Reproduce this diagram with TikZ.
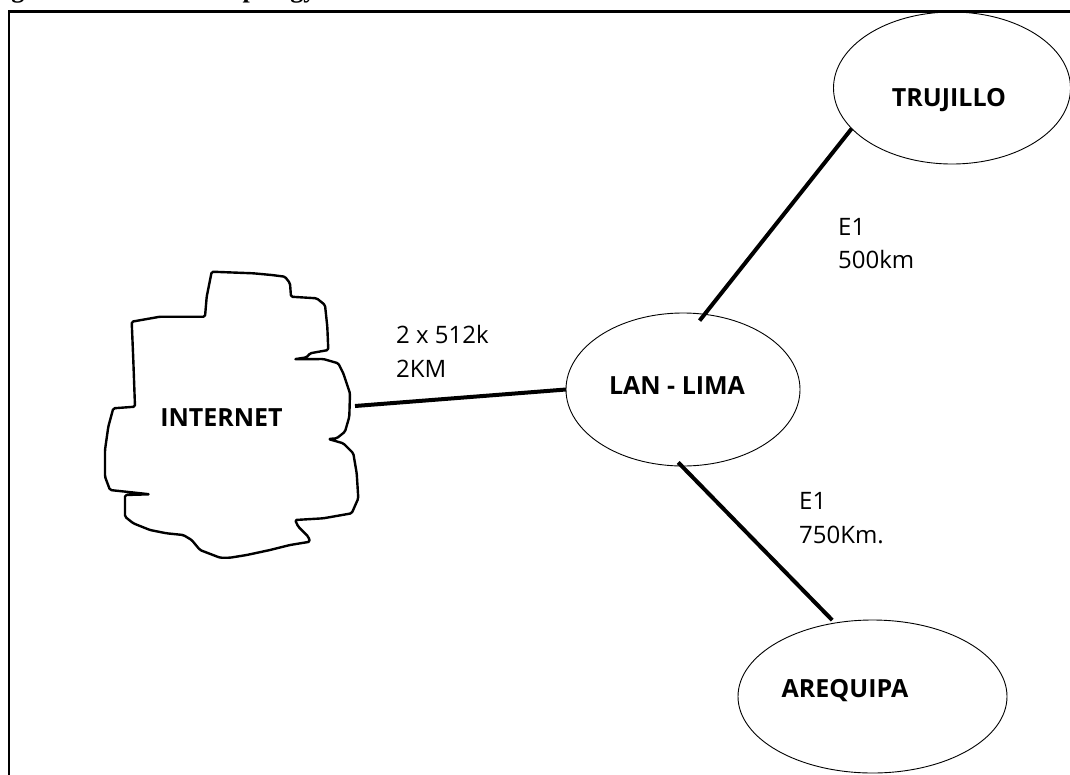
\documentclass[tikz,border=0pt]{standalone}
\usepackage{fontspec}
\setmainfont{Open Sans}
\newfontfamily\titlefont{Liberation Serif}
\usetikzlibrary{shapes.geometric}
\begin{document}
\begin{tikzpicture}[x=1pt,y=-1pt,
  site/.style={draw, line width=0.9pt, ellipse, inner sep=0pt, outer sep=0pt},
  sitename/.style={inner sep=0pt, anchor=base, font=\fontsize{25}{30}\selectfont\bfseries},
  linklabel/.style={inner sep=0pt, anchor=base west, font=\fontsize{24}{30}\selectfont},
  link/.style={line width=4pt},
  cloudline/.style={line width=2.4pt, line join=round, rounded corners=1.5pt}]
\useasboundingbox (0,0) rectangle (1070,774);
\clip (0,0) rectangle (1070,774);
\fill[white] (0,0) rectangle (1070,774);
% clipped title
\node[inner sep=0pt, anchor=base west, font=\fontsize{26}{30}\selectfont\titlefont\bfseries] (title) at (-12,-2.5) {Figure 2.1: Network topology};
% frame
\draw[line width=2.2pt] (9,800) -- (9,11.5) -- (1090,11.5);
% cloud
\draw[cloudline] (211.7,271.7) -- (253.3,273.3) -- (271.7,275) -- (285,276.7) -- (290,283.3) -- (291,296.7)
  -- (316.7,298.3) -- (325,305) -- (327.3,326.7) -- (328.3,350) -- (310,353.3) -- (306.7,357.3) -- (294,359.3)
  -- (323.3,359) -- (338.3,363.3) -- (343.3,373.3) -- (350,393.3) -- (349.3,416.7) -- (345,431.7) -- (336.7,438.3) -- (328.3,439)
  -- (343.3,443.3) -- (353.3,453.3) -- (356.7,473.3) -- (358.3,498.3) -- (351.7,513.3) -- (323.3,518.3) -- (295,520)
  -- (298.3,526.7) -- (308.3,536.7) -- (310,541.7) -- (290,545) -- (270,550) -- (246.7,555) -- (230,557.7) -- (220,557.7)
  -- (200,550) -- (191.7,540) -- (183.3,535) -- (166.7,533.3) -- (150,530) -- (133.3,523.3) -- (125,516.7) -- (125,495)
  -- (150,494.3) -- (110,490) -- (105,476.7) -- (105,450) -- (108.3,426.7) -- (113.3,408.3) -- (135,406.7)
  -- (133.3,360) -- (131.7,321.7) -- (160,316.7) -- (205,316.7) -- (206.7,296.7) -- cycle;
\coordinate (cloudE) at (355,406);
\node[sitename] (internet) at (221.5,426.7) {INTERNET};
% sites
\node[site, minimum width=237pt, minimum height=152pt] (truj) at (952,88) {};
\node[site, minimum width=234pt, minimum height=153pt] (lima) at (683,389.5) {};
\node[site, minimum width=269pt, minimum height=153pt] (areq) at (872.5,696.5) {};
\node[sitename] (trujT) at (949,106) {TRUJILLO};
\node[sitename] (limaT) at (677,394) {LAN - LIMA};
\node[sitename] (areqT) at (845,697) {AREQUIPA};
% links
\draw[link] (cloudE) -- (lima.west);
\draw[link, shorten <=-8pt] (lima.74) -- (truj.202);
\draw[link, shorten <=-5pt, shorten >=4pt] (lima.269) -- (areq.117);
% link labels
\node[linklabel] (l1a) at (396,343.5) {2 x 512k};
\node[linklabel] (l1b) at (396,377) {2KM};
\node[linklabel] (l2a) at (838,235) {E1};
\node[linklabel] (l2b) at (838,268) {500km};
\node[linklabel] (l3a) at (799,509) {E1};
\node[linklabel] (l3b) at (799,543) {750Km.};
\end{tikzpicture}
\end{document}
